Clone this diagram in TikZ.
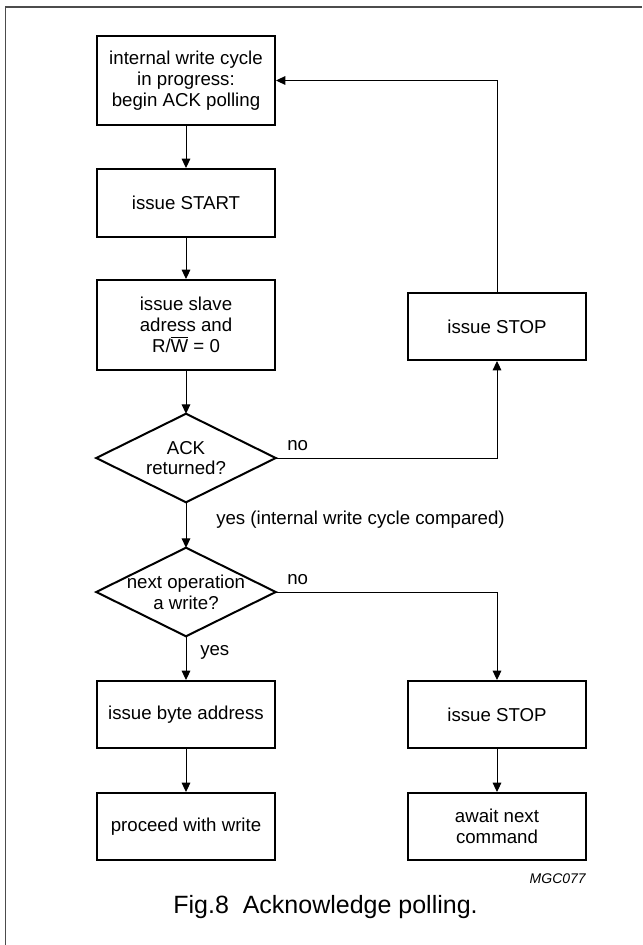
\documentclass[tikz,border=0pt]{standalone}
\usepackage{fontspec}
\setmainfont{Liberation Sans}
\usetikzlibrary{arrows.meta}
\tikzset{
  stepbox/.style={draw, line width=1.5pt, minimum width=133.5pt, align=center, inner sep=0pt, font=\fontsize{14}{15.6}\selectfont},
  decbox/.style={draw=none, minimum width=134.25pt, minimum height=66pt, align=center, inner sep=0pt, font=\fontsize{14}{15.6}\selectfont},
  decline/.style={line width=1.5pt, line join=miter},
  arr/.style={line width=0.75pt, -{Triangle[length=7pt,width=6.5pt]}},
  conn/.style={line width=0.75pt},
  lbl/.style={anchor=west, inner sep=0pt, font=\fontsize{14}{15.6}\selectfont},
}
\begin{document}
\begin{tikzpicture}[x=0.75pt,y=-0.75pt]
\useasboundingbox (0,0) rectangle (642,945);
% frame
\draw[line width=1pt, draw=black!70] (5.5,945) -- (5.5,7) -- (642,7);
% left column
\node[stepbox, minimum height=66.75pt] (b1) at (186,80.5) {internal write cycle\\in progress:\\begin ACK polling};
\node[stepbox, minimum height=51pt] (b2) at (186,203) {issue START};
\node[stepbox, minimum height=67.5pt] (b3) at (186,325) {issue slave\\adress and\\R/$\overline{\hbox{W}}$ = 0};
\node[decbox] (d1) at (186,458) {ACK\\returned?};
\draw[decline] (d1.west) -- (d1.north) -- (d1.east) -- (d1.south) -- cycle;
\node[decbox] (d2) at (186,592) {next operation\\a write?};
\draw[decline] (d2.west) -- (d2.north) -- (d2.east) -- (d2.south) -- cycle;
\node[stepbox, minimum height=50.25pt] (b4) at (186,714.5) {issue byte address};
\node[stepbox, minimum height=50.25pt] (b5) at (186,826.5) {proceed with write};
% right column
\node[stepbox, minimum height=50.25pt] (s1) at (497,326.5) {issue STOP};
\node[stepbox, minimum height=50.25pt] (s2) at (497,714.5) {issue STOP};
\node[stepbox, minimum height=50.25pt] (s3) at (497,826.5) {await next\\command};
% connectors
\draw[arr] (b1) -- (b2);
\draw[arr] (b2) -- (b3);
\draw[arr] (b3) -- (d1.north);
\draw[arr] (d1.south) -- (d2.north);
\draw[arr] (d2.south) -- (b4);
\draw[arr] (b4) -- (b5);
\draw[arr] (d1.east) -| (s1.south);
\draw[arr] (s1.north) |- (b1.east);
\draw[arr] (d2.east) -| (s2.north);
\draw[arr] (s2) -- (s3);
% labels
\node[lbl] (no1) at (287,446) {no};
\node[lbl] (no2) at (287,580) {no};
\node[lbl] (yes1) at (216,520) {yes (internal write cycle compared)};
\node[lbl] (yes2) at (200,652) {yes};
\node[anchor=east, inner sep=0pt, font=\fontsize{10.5}{12}\selectfont\itshape] (code) at (586,879) {MGC077};
\node[inner sep=0pt, font=\fontsize{18.75}{22}\selectfont] (cap) at (325.5,907) {Fig.8\ \ Acknowledge polling.};
\end{tikzpicture}
\end{document}
